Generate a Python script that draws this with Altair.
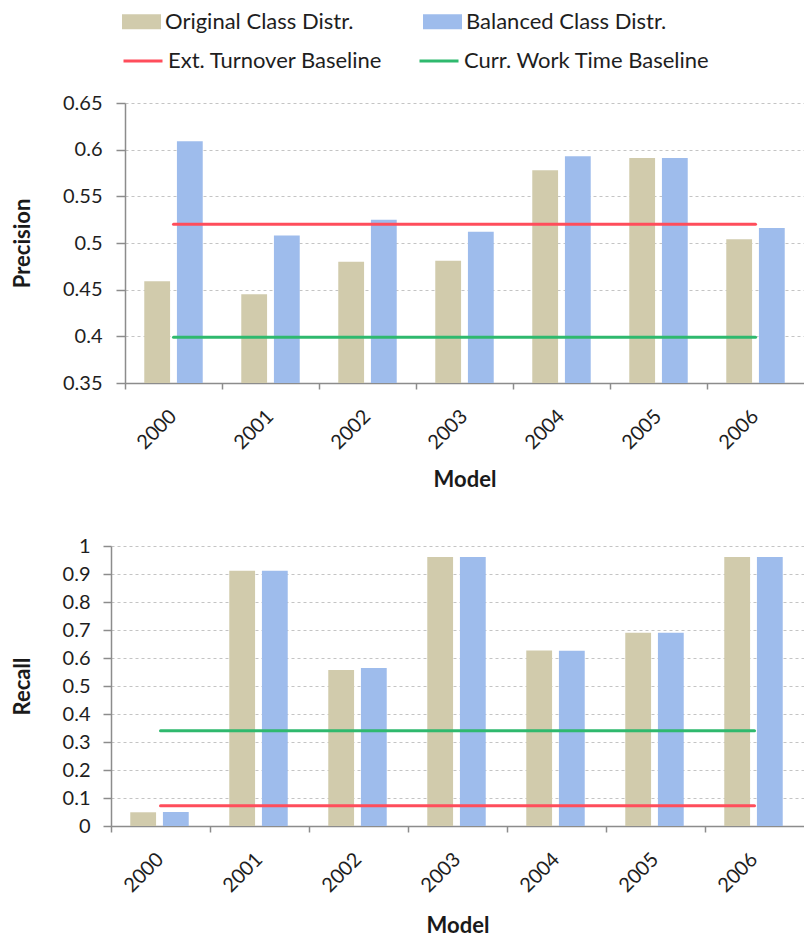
import altair as alt
import pandas as pd

# ---------------- data ----------------
models = ["2000", "2001", "2002", "2003", "2004", "2005", "2006"]
bar_series = ["Original Class Distr.", "Balanced Class Distr."]
line_series = ["Ext. Turnover Baseline", "Curr. Work Time Baseline"]

precision_original = [0.459, 0.445, 0.480, 0.481, 0.578, 0.591, 0.504]
precision_balanced = [0.609, 0.508, 0.525, 0.512, 0.593, 0.591, 0.516]
precision_ext_turnover = [0.520, 0.520, 0.520, 0.520, 0.520, 0.520, 0.520]
precision_work_time = [0.399, 0.399, 0.399, 0.399, 0.399, 0.399, 0.399]

recall_original = [0.049, 0.912, 0.557, 0.961, 0.627, 0.690, 0.961]
recall_balanced = [0.050, 0.912, 0.564, 0.961, 0.626, 0.690, 0.961]
recall_ext_turnover = [0.072, 0.072, 0.072, 0.072, 0.072, 0.072, 0.072]
recall_work_time = [0.340, 0.340, 0.340, 0.340, 0.340, 0.340, 0.340]

precision_ticks = [0.35, 0.4, 0.45, 0.5, 0.55, 0.6, 0.65]
recall_ticks = [0, 0.1, 0.2, 0.3, 0.4, 0.5, 0.6, 0.7, 0.8, 0.9, 1]

bar_colors = ["#D1CBAC", "#9EBCEC"]
line_colors = ["#FF4D5B", "#2FB96E"]


def long_df(names, arrays):
    rows = []
    for name, arr in zip(names, arrays):
        for m, v in zip(models, arr):
            rows.append({"Model": m, "Series": name, "Value": v})
    return pd.DataFrame(rows)


prec_bars = long_df(bar_series, [precision_original, precision_balanced])
prec_lines = long_df(line_series, [precision_ext_turnover, precision_work_time])
rec_bars = long_df(bar_series, [recall_original, recall_balanced])
rec_lines = long_df(line_series, [recall_ext_turnover, recall_work_time])

FONT = "Lato"

fill_legend = alt.Legend(
    title=None, orient="none", legendX=11, legendY=-101, direction="horizontal",
    columns=2, columnPadding=69, symbolType="M-1,-0.385H1V0.385H-1Z", symbolSize=1521,
    symbolStrokeWidth=0, labelFont=FONT, labelFontSize=22, labelColor="#1E1E1E",
    labelOffset=4, padding=0, labelLimit=400,
)
stroke_legend = alt.Legend(
    title=None, orient="none", legendX=11, legendY=-63, direction="horizontal",
    columns=2, columnPadding=30, symbolType="stroke", symbolSize=1521,
    symbolStrokeWidth=3, labelFont=FONT, labelFontSize=22, labelColor="#1E1E1E",
    labelOffset=4, padding=0, labelLimit=400,
)

PANEL_W = 693


def panel(bars_df, lines_df, ytitle, ticks, fmt, left_shift, tick_size, label_pad,
          x_title_pad):
    ymin, ymax = ticks[0], ticks[-1]
    xaxis = alt.Axis(
        title="Model", labelAngle=315, labelAlign="right", labelBaseline="middle",
        bandPosition=0, tickSize=6, labelPadding=24, titlePadding=x_title_pad,
        grid=False,
    )
    yaxis = alt.Axis(
        title=ytitle, values=ticks, format=fmt, tickSize=tick_size,
        labelPadding=label_pad, titlePadding=28, grid=True, labelOverlap=False,
        offset=-left_shift,
    )
    xscale = alt.Scale(paddingInner=0, paddingOuter=0, range=[left_shift, PANEL_W])
    yscale = alt.Scale(domain=[ymin, ymax], zero=False, nice=False)
    bars = alt.Chart(bars_df).mark_bar().encode(
        x=alt.X("Model:N", sort=models, axis=xaxis, scale=xscale),
        xOffset=alt.XOffset("Series:N", sort=bar_series,
                            scale=alt.Scale(paddingInner=0.21, paddingOuter=0.59)),
        y=alt.Y("Value:Q", axis=yaxis, scale=yscale),
        y2=alt.datum(ymin),
        fill=alt.Fill("Series:N", sort=bar_series,
                      scale=alt.Scale(domain=bar_series, range=bar_colors),
                      legend=fill_legend),
    )
    lines = alt.Chart(lines_df).mark_line(strokeWidth=3, strokeCap="round").encode(
        x=alt.X("Model:N", sort=models, axis=xaxis, scale=xscale),
        y=alt.Y("Value:Q", axis=yaxis, scale=yscale),
        stroke=alt.Stroke("Series:N", sort=line_series,
                          scale=alt.Scale(domain=line_series, range=line_colors),
                          legend=stroke_legend),
    )
    return alt.layer(bars, lines).properties(width=PANEL_W, height=280)


top = panel(prec_bars, prec_lines, "Precision", precision_ticks, ".2~f", 14, 9, 14, 17)
bottom = panel(rec_bars, rec_lines, "Recall", recall_ticks, ".1~f", 0, 8, 13, 20)

chart = (
    alt.concat(top, bottom, columns=1, spacing=45)
    .resolve_scale(x="independent", y="independent", fill="shared", stroke="shared")
    .properties(padding={"left": 11, "top": 2, "right": 0, "bottom": 0})
    .configure_view(stroke=None)
    .configure_axis(
        domainColor="#8C8C8C", domainWidth=1.5, tickColor="#8C8C8C", tickWidth=1.5,
        labelFont=FONT, labelFontSize=20, labelColor="#1E1E1E",
        titleFont=FONT, titleFontSize=22, titleFontWeight="bold", titleColor="#1A1A1A",
        gridColor="#C4C4C4", gridDash=[3, 3], gridWidth=1,
    )
    .configure_axisX(grid=False)
)

chart.save("out.html", embed_options={"renderer": "svg", "actions": False})
